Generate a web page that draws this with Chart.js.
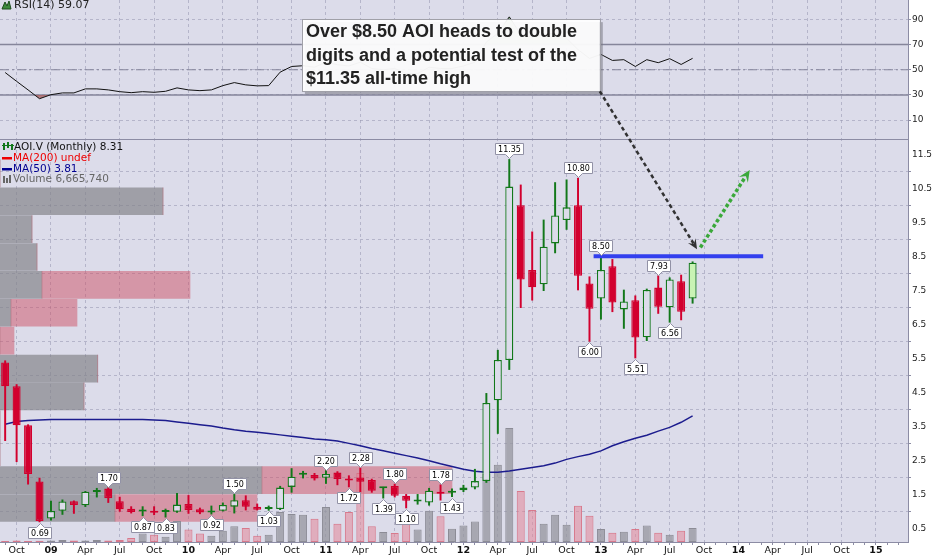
<!DOCTYPE html>
<html>
<head>
<meta charset="utf-8">
<script src="https://cdn.jsdelivr.net/npm/chart.js@4.4.1/dist/chart.umd.min.js"></script>
<style>
  html, body { margin: 0; padding: 0; background: #fff; }
  #c { display: block; width: 935px; height: 557px; }
</style>
</head>
<body>
<canvas id="c" width="935" height="557"></canvas>
<script>
// monthly bars, Sep 2008 .. Sep 2013
const months = [
  '2008-09','2008-10','2008-11','2008-12',
  '2009-01','2009-02','2009-03','2009-04','2009-05','2009-06','2009-07','2009-08','2009-09','2009-10','2009-11','2009-12',
  '2010-01','2010-02','2010-03','2010-04','2010-05','2010-06','2010-07','2010-08','2010-09','2010-10','2010-11','2010-12',
  '2011-01','2011-02','2011-03','2011-04','2011-05','2011-06','2011-07','2011-08','2011-09','2011-10','2011-11','2011-12',
  '2012-01','2012-02','2012-03','2012-04','2012-05','2012-06','2012-07','2012-08','2012-09','2012-10','2012-11','2012-12',
  '2013-01','2013-02','2013-03','2013-04','2013-05','2013-06','2013-07','2013-08','2013-09'
];
const opens = [
  5.38, 4.68, 3.53, 1.88,
  0.79, 1.02, 1.30, 1.18, 1.57, 1.67, 1.30, 1.08, 1.00, 1.02, 0.98, 0.99,
  1.22, 1.06, 0.97, 1.02, 1.14, 1.33, 1.14, 1.07, 1.07, 1.72, 2.08, 2.07,
  1.99, 2.14, 1.93, 2.00, 1.92, 1.68, 1.75, 1.46, 1.29, 1.26, 1.58, 1.55,
  1.62, 1.70, 1.89, 4.27, 5.45, 10.00, 8.10, 7.68, 8.88, 9.57, 10.00, 7.70,
  7.26, 8.21, 6.94, 7.21, 6.12, 7.58, 7.00, 7.77, 7.26
];
const highs = [
  5.43, 4.73, 3.55, 1.98,
  1.30, 1.34, 1.31, 1.59, 1.68, 1.70, 1.42, 1.14, 1.14, 1.14, 1.07, 1.53,
  1.47, 1.10, 1.16, 1.25, 1.50, 1.46, 1.22, 1.16, 1.74, 2.26, 2.18, 2.12,
  2.20, 2.17, 2.05, 2.28, 1.95, 1.71, 1.80, 1.50, 1.50, 1.68, 1.78, 1.66,
  1.77, 2.24, 4.47, 5.74, 11.35, 10.60, 9.22, 9.57, 10.67, 10.75, 10.80, 7.90,
  8.50, 8.41, 7.51, 7.34, 7.54, 7.93, 7.87, 7.95, 8.34
];
const lows = [
  3.08, 2.46, 1.80, 0.69,
  0.74, 0.91, 0.94, 1.14, 1.42, 1.26, 1.00, 0.95, 0.87, 0.90, 0.83, 0.97,
  0.94, 0.93, 0.92, 1.01, 0.95, 1.04, 1.04, 1.03, 1.05, 1.56, 1.98, 1.92,
  1.82, 1.78, 1.72, 1.57, 1.56, 1.39, 1.42, 1.10, 1.21, 1.18, 1.33, 1.43,
  1.58, 1.66, 1.85, 3.29, 5.17, 6.99, 7.21, 7.49, 8.60, 9.29, 7.51, 6.00,
  6.65, 6.87, 6.38, 5.51, 6.02, 6.82, 6.56, 6.63, 7.12
];
const closes = [
  4.68, 3.53, 2.10, 0.72,
  1.01, 1.29, 1.19, 1.58, 1.59, 1.39, 1.06, 0.98, 1.02, 0.96, 1.00, 1.20,
  1.04, 0.97, 0.99, 1.19, 1.33, 1.14, 1.05, 1.09, 1.70, 2.02, 2.10, 1.97,
  2.10, 1.95, 1.91, 1.87, 1.61, 1.70, 1.46, 1.31, 1.31, 1.61, 1.52, 1.60,
  1.70, 1.89, 4.19, 5.45, 10.55, 7.82, 7.59, 8.78, 9.70, 9.94, 7.93, 6.96,
  8.10, 7.14, 7.17, 6.11, 7.51, 7.02, 7.82, 6.87, 8.31
];
// volume in millions of shares
const volumes = [
  0.5, 0.7, 0.5, 0.6,
  0.7, 1.0, 0.7, 0.7, 1.0, 0.7, 1.0, 1.9, 4.0, 3.5, 2.5, 10.0,
  5.9, 4.0, 3.0, 5.4, 7.5, 6.7, 3.0, 3.5, 14.3, 13.3, 13.0, 11.1,
  16.7, 8.7, 14.3, 32.8, 7.5, 4.8, 4.3, 12.2, 5.9, 14.9, 12.2, 6.3,
  7.8, 9.7, 32.4, 36.8, 54.3, 24.3, 15.2, 8.7, 13.0, 8.2, 17.3, 12.5,
  6.2, 4.4, 4.9, 6.2, 7.8, 4.4, 3.5, 5.4, 6.66574
];
const ma50 = [
  3.56, 3.64, 3.67, 3.69,
  3.70, 3.70, 3.70, 3.70, 3.70, 3.70, 3.70, 3.70, 3.70, 3.69, 3.67, 3.63,
  3.59, 3.55, 3.51, 3.45, 3.40, 3.36, 3.33, 3.29, 3.25, 3.21, 3.17, 3.13,
  3.11, 3.07, 3.00, 2.93, 2.85, 2.78, 2.71, 2.64, 2.57, 2.49, 2.40, 2.32,
  2.24, 2.18, 2.15, 2.15, 2.19, 2.24, 2.29, 2.34, 2.42, 2.53, 2.61, 2.68,
  2.78, 2.93, 3.05, 3.15, 3.24, 3.36, 3.47, 3.62, 3.81
];
const rsi14 = [
  47.8, 40.8, 34.0, 27.0,
  30.2, 31.6, 31.6, 34.8, 34.8, 34.0, 32.6, 31.8, 32.6, 32.1, 32.9, 35.6,
  34.0, 33.4, 34.0, 37.4, 39.8, 38.0, 37.2, 37.4, 48.1, 52.6, 53.2, 52.0,
  56.0, 54.0, 53.0, 56.0, 51.0, 50.0, 51.0, 47.0, 47.0, 52.0, 51.0, 51.0,
  53.0, 56.0, 72.0, 79.0, 92.0, 78.0, 76.0, 78.0, 79.0, 75.0, 66.0, 59.0,
  62.2, 57.4, 58.0, 52.6, 58.0, 55.6, 58.8, 54.2, 59.07
];

// volume by price rows (price zones) and their up / down volume
const vbpLow  = [0.69, 1.51, 2.33, 3.15, 3.97, 4.79, 5.61, 6.43, 7.25, 8.07, 8.89, 9.71, 10.53];
const vbpHigh = [1.51, 2.33, 3.15, 3.97, 4.79, 5.61, 6.43, 7.25, 8.07, 8.89, 9.71, 10.53, 11.35];
const vbpUp   = [46.0, 104.8, 0, 0, 33.6, 39.1, 0, 4.4, 16.8, 14.8, 12.8, 65.2, 0];
const vbpDown = [56.8, 76.0, 0, 0, 0, 0, 5.6, 26.4, 59.2, 0, 0, 0, 0];

// tick labels
const xTickLabels = ['Oct','09','Apr','Jul','Oct','10','Apr','Jul','Oct','11','Apr','Jul','Oct','12',
  'Apr','Jul','Oct','13','Apr','Jul','Oct','14','Apr','Jul','Oct','15'];
const xFirstTick = '2008-10';
const priceTicks = [0.5,1.0,1.5,2.0,2.5,3.0,3.5,4.0,4.5,5.0,5.5,6.0,6.5,7.0,7.5,8.0,8.5,9.0,9.5,10.0,10.5,11.0,11.5];
const rsiGrid = [10,20,30,40,50,60,70,80,90];
const rsiTickLabels = [10,30,50,70,90];
const rsiLevels = [70, 50, 30];

// swing highs / lows that carry a price tag
const taggedBars = [
  ['2008-12','low'], ['2009-06','high'], ['2009-09','low'], ['2009-11','low'], ['2010-03','low'],
  ['2010-05','high'], ['2010-08','low'], ['2011-01','high'], ['2011-03','low'], ['2011-04','high'],
  ['2011-06','low'], ['2011-07','high'], ['2011-08','low'], ['2011-11','high'], ['2011-12','low'],
  ['2012-05','high'], ['2012-11','high'], ['2012-12','low'], ['2013-01','high'], ['2013-04','low'],
  ['2013-06','high'], ['2013-07','low']
];
// resistance line at 8.50 (month position, price)
const resistance = [{ x: 47.36, y: 8.5 }, { x: 62.16, y: 8.5 }];

const noteLines = ['Over $8.50 AOI heads to double', 'digits and a potential test of the', '$11.35 all-time high'];

function monthIndex(s) {
  const [y, m] = s.split('-').map(Number);
  return (y - 2009) * 12 + (m - 1);
}
const mIdx = months.map(monthIndex);
const firstQ = monthIndex(xFirstTick);

const X_MIN = -4.45, X_MAX = 74.8;
const BG = '#dcdcea';
const GRID = 'rgba(150,150,175,0.55)';
const AXIS = '#8c8ca4';
const UP_EDGE = '#12781a';
const DOWN = '#d2002e';
const LAST_FILL = '#c9f3b4';
const FONT = '"DejaVu Sans", Verdana, sans-serif';

const isUp = i => closes[i] >= opens[i];

const monthTicks = [];
for (let m = -4; m <= 74; m++) monthTicks.push({ value: m });

function xLabel(v) {
  const k = v - firstQ;
  if (k < 0 || k % 3 !== 0) return '';
  return xTickLabels[k / 3] || '';
}

const decor = {
  id: 'decor',
  beforeDraw(chart) {
    const { ctx, chartArea: a } = chart;
    ctx.save();
    ctx.fillStyle = '#fff';
    ctx.fillRect(0, 0, chart.width, chart.height);
    ctx.fillStyle = BG;
    ctx.fillRect(a.left, a.top, a.right - a.left, a.bottom - a.top);
    ctx.restore();
  },
  afterDraw(chart) {
    const { ctx, chartArea: a, scales } = chart;
    const x = scales.x, y = scales.y, yr = scales.yr;
    ctx.save();

    // separator between RSI and price panels
    ctx.strokeStyle = AXIS;
    ctx.lineWidth = 1;
    ctx.beginPath();
    ctx.moveTo(a.left, Math.round(yr.bottom) + 0.5);
    ctx.lineTo(a.right, Math.round(yr.bottom) + 0.5);
    ctx.stroke();

    // price tags on swing points
    taggedBars.forEach(([mo, side]) => {
      const i = months.indexOf(mo);
      const v = side === 'high' ? highs[i] : lows[i];
      drawTag(ctx, x.getPixelForValue(mIdx[i]), y.getPixelForValue(v), v.toFixed(2), side === 'low');
    });

    // RSI title
    ctx.fillStyle = '#3d8a3d';
    ctx.strokeStyle = '#1d4d1d';
    ctx.beginPath();
    ctx.moveTo(2, 9); ctx.lineTo(5, 2); ctx.lineTo(7, 6); ctx.lineTo(9, 1); ctx.lineTo(11, 9); ctx.closePath();
    ctx.fill(); ctx.stroke();
    ctx.font = '11px ' + FONT;
    ctx.textBaseline = 'middle';
    ctx.fillStyle = '#222';
    ctx.fillText('RSI(14) ' + rsi14[rsi14.length - 1].toFixed(2), 14, 5.5);

    // price panel legend
    const top = y.top;
    ctx.font = '10.5px ' + FONT;
    const last = closes.length - 1;
    ctx.fillStyle = UP_EDGE;
    ctx.fillRect(3, top + 4, 2, 7); ctx.fillRect(7, top + 3, 2, 6); ctx.fillRect(11, top + 5, 2, 6);
    ctx.fillRect(2, top + 6, 12, 1);
    ctx.fillStyle = '#111';
    ctx.fillText('AOI.V (Monthly) ' + closes[last].toFixed(2), 14, top + 8);
    ctx.fillStyle = '#ee0000';
    ctx.fillRect(2, top + 18, 10, 2.5);
    ctx.fillText('MA(200) undef', 13, top + 19);
    ctx.fillStyle = '#000090';
    ctx.fillRect(2, top + 29, 10, 2.5);
    ctx.fillText('MA(50) ' + ma50[last].toFixed(2), 13, top + 30);
    ctx.fillStyle = '#666';
    ctx.fillRect(3, top + 37, 2, 7); ctx.fillRect(6, top + 39, 2, 5); ctx.fillRect(9, top + 36, 2, 8);
    ctx.fillText('Volume ' + Math.round(volumes[last] * 1e6).toLocaleString('en-US'), 13, top + 40);

    // annotation box, anchored to month / RSI units
    const bx0 = x.getPixelForValue(21.9), bx1 = x.getPixelForValue(47.9);
    const by0 = yr.getPixelForValue(90.2), by1 = yr.getPixelForValue(32.9);
    ctx.fillStyle = 'rgba(120,120,130,0.55)';
    ctx.fillRect(bx0 + 3, by0 + 3, bx1 - bx0, by1 - by0);
    ctx.fillStyle = 'rgba(255,255,255,0.93)';
    ctx.fillRect(bx0, by0, bx1 - bx0, by1 - by0);
    ctx.strokeStyle = '#a0a0a8';
    ctx.strokeRect(Math.round(bx0) + 0.5, Math.round(by0) + 0.5, Math.round(bx1 - bx0), Math.round(by1 - by0));
    ctx.fillStyle = '#222';
    ctx.font = 'bold 18px "Liberation Sans", Arial, sans-serif';
    noteLines.forEach((t, k) => ctx.fillText(t, bx0 + 4, by0 + 13 + k * 23.5));

    // arrows
    arrow(ctx, bx1, by1, x.getPixelForValue(56.39), y.getPixelForValue(8.71), 'rgba(35,35,35,0.92)', 2.5, [4, 3], 11);
    arrow(ctx, x.getPixelForValue(56.68), y.getPixelForValue(8.76), x.getPixelForValue(60.99), y.getPixelForValue(11.04), '#3aa83a', 3.5, [3.5, 2.5], 13);

    ctx.restore();
  }
};

function drawTag(ctx, px, py, text, below) {
  ctx.save();
  ctx.font = '8px ' + FONT;
  const w = Math.ceil(ctx.measureText(text).width) + 5;
  const h = 11;
  const cx = Math.round(px) + 0.5;
  const bx = Math.round(px - w / 2) + 0.5;
  const by = below ? Math.round(py + 5) + 0.5 : Math.round(py - 5 - h) + 0.5;
  ctx.beginPath();
  if (below) {
    ctx.moveTo(bx, by); ctx.lineTo(cx - 4, by); ctx.lineTo(cx, by - 4); ctx.lineTo(cx + 4, by);
    ctx.lineTo(bx + w, by); ctx.lineTo(bx + w, by + h); ctx.lineTo(bx, by + h);
  } else {
    ctx.moveTo(bx, by); ctx.lineTo(bx + w, by); ctx.lineTo(bx + w, by + h); ctx.lineTo(cx + 4, by + h);
    ctx.lineTo(cx, by + h + 4); ctx.lineTo(cx - 4, by + h); ctx.lineTo(bx, by + h);
  }
  ctx.closePath();
  ctx.fillStyle = '#fff';
  ctx.fill();
  ctx.strokeStyle = '#9292a6';
  ctx.lineWidth = 1;
  ctx.stroke();
  ctx.fillStyle = '#000';
  ctx.textAlign = 'center';
  ctx.textBaseline = 'middle';
  ctx.fillText(text, bx + w / 2, by + h / 2 + 0.5);
  ctx.restore();
}

function arrow(ctx, x1, y1, x2, y2, color, width, dash, head) {
  const a = Math.atan2(y2 - y1, x2 - x1);
  ctx.save();
  ctx.strokeStyle = color;
  ctx.lineWidth = width;
  ctx.setLineDash(dash);
  ctx.beginPath();
  ctx.moveTo(x1, y1);
  ctx.lineTo(x2 - Math.cos(a) * head * 0.6, y2 - Math.sin(a) * head * 0.6);
  ctx.stroke();
  ctx.setLineDash([]);
  ctx.fillStyle = color;
  ctx.beginPath();
  ctx.moveTo(x2, y2);
  ctx.lineTo(x2 - head * Math.cos(a - 0.42), y2 - head * Math.sin(a - 0.42));
  ctx.lineTo(x2 - head * 0.55 * Math.cos(a), y2 - head * 0.55 * Math.sin(a));
  ctx.lineTo(x2 - head * Math.cos(a + 0.42), y2 - head * Math.sin(a + 0.42));
  ctx.closePath();
  ctx.fill();
  ctx.restore();
}

const bars = { grouped: false, categoryPercentage: 1, barPercentage: 0.7 };

const datasets = [
  // volume by price
  Object.assign({ type: 'bar', indexAxis: 'y', xAxisID: 'xv', yAxisID: 'y', order: 20,
    data: vbpLow.map((lo, i) => ({ y: (lo + vbpHigh[i]) / 2, x: [0, vbpUp[i]] })),
    backgroundColor: 'rgba(128,128,134,0.67)', borderWidth: 0, barThickness: 27, grouped: false }),
  Object.assign({ type: 'bar', indexAxis: 'y', xAxisID: 'xv', yAxisID: 'y', order: 19,
    data: vbpLow.map((lo, i) => ({ y: (lo + vbpHigh[i]) / 2, x: [vbpUp[i], vbpUp[i] + vbpDown[i]] })),
    backgroundColor: 'rgba(205,80,100,0.5)', borderWidth: 0, barThickness: 27, grouped: false }),
  // volume
  Object.assign({ type: 'bar', xAxisID: 'x', yAxisID: 'yVol', order: 15,
    data: mIdx.map((m, i) => ({ x: m, y: volumes[i] })),
    backgroundColor: c => isUp(c.dataIndex) ? 'rgba(150,150,158,0.75)' : 'rgba(228,135,152,0.55)',
    borderColor: c => isUp(c.dataIndex) ? '#8c8c96' : 'rgba(215,110,130,0.9)',
    borderWidth: 1, borderSkipped: false }, bars),
  // MA(50)
  { type: 'line', xAxisID: 'x', yAxisID: 'y', order: 10,
    data: mIdx.map((m, i) => ({ x: m, y: ma50[i] })),
    borderColor: '#1c1c8e', borderWidth: 1.5, pointRadius: 0, tension: 0 },
  // wicks
  { type: 'bar', xAxisID: 'x', yAxisID: 'y', order: 6, grouped: false, barThickness: 1.3,
    data: mIdx.map((m, i) => ({ x: m, y: [lows[i], highs[i]] })),
    backgroundColor: c => isUp(c.dataIndex) ? UP_EDGE : DOWN, borderWidth: 0 },
  // bodies
  Object.assign({ type: 'bar', xAxisID: 'x', yAxisID: 'y', order: 5,
    data: mIdx.map((m, i) => ({ x: m, y: [opens[i], closes[i]] })),
    backgroundColor: c => c.dataIndex === closes.length - 1 ? LAST_FILL : (isUp(c.dataIndex) ? BG : DOWN),
    borderColor: c => isUp(c.dataIndex) ? UP_EDGE : DOWN,
    borderWidth: 1.3, borderSkipped: false, minBarLength: 2 }, bars),
  // 8.50 resistance
  { type: 'line', xAxisID: 'x', yAxisID: 'y', order: 4, data: resistance,
    borderColor: '#3340ee', borderWidth: 4, pointRadius: 0 },
  // RSI line with oversold shading
  { type: 'line', xAxisID: 'x', yAxisID: 'yr', order: 3,
    data: mIdx.map((m, i) => ({ x: m, y: rsi14[i] })),
    borderColor: '#111', borderWidth: 1, pointRadius: 0, tension: 0,
    fill: { target: { value: 30 }, above: 'rgba(0,0,0,0)', below: 'rgba(165,90,90,0.75)' } },
  // overbought shading
  { type: 'line', xAxisID: 'x', yAxisID: 'yr', order: 9,
    data: mIdx.map((m, i) => ({ x: m, y: rsi14[i] })),
    borderWidth: 0, pointRadius: 0, tension: 0,
    fill: { target: { value: 70 }, above: 'rgba(110,185,110,0.6)', below: 'rgba(0,0,0,0)' } }
];
rsiLevels.forEach(v => {
  datasets.push({ type: 'line', xAxisID: 'x', yAxisID: 'yr', order: 8,
    data: [{ x: X_MIN, y: v }, { x: X_MAX, y: v }],
    borderColor: '#85859a', borderWidth: v === 50 ? 1 : 1.5,
    borderDash: v === 50 ? [9, 3, 2, 3] : [], pointRadius: 0 });
});

const rightAxisFit = s => { s.width = 27; s.paddingTop = 0; s.paddingBottom = 0; };

new Chart(document.getElementById('c'), {
  type: 'bar',
  data: { datasets },
  plugins: [decor],
  options: {
    responsive: false,
    devicePixelRatio: 1,
    animation: false,
    events: [],
    layout: { padding: 0 },
    plugins: { legend: { display: false }, tooltip: { enabled: false } },
    scales: {
      x: {
        type: 'linear', axis: 'x', position: 'bottom', min: X_MIN, max: X_MAX, offset: false,
        afterBuildTicks: s => { s.ticks = monthTicks.map(t => ({ value: t.value })); },
        afterFit: s => { s.height = 15; s.paddingLeft = 0; s.paddingRight = 0; },
        ticks: {
          autoSkip: false, maxRotation: 0, padding: 0, color: '#111',
          callback: v => xLabel(v),
          font: c => ({ family: FONT, size: 9.5, weight: c.tick && (c.tick.value - firstQ) % 12 === 3 ? 'bold' : 'normal' })
        },
        grid: {
          offset: false, lineWidth: 1, tickLength: 3, tickColor: AXIS,
          color: c => c.tick && ((c.tick.value - firstQ) % 3 === 0) ? GRID : 'rgba(0,0,0,0)'
        },
        border: { color: AXIS, dash: [3, 3] }
      },
      yr: {
        type: 'linear', axis: 'y', position: 'right', stack: 'panes', stackWeight: 139,
        min: -5, max: 105.4, offset: false,
        afterBuildTicks: s => { s.ticks = rsiGrid.map(v => ({ value: v })); },
        afterFit: rightAxisFit,
        ticks: { padding: 1, color: '#222', font: { family: FONT, size: 9 },
          callback: v => rsiTickLabels.includes(v) ? String(v) : '' },
        grid: { color: GRID, tickColor: AXIS, tickLength: 3 },
        border: { color: AXIS, dash: [3, 3] }
      },
      y: {
        type: 'linear', axis: 'y', position: 'right', stack: 'panes', stackWeight: 403,
        min: 0.1, max: 11.95, offset: false,
        afterBuildTicks: s => { s.ticks = priceTicks.map(v => ({ value: v })); },
        afterFit: rightAxisFit,
        ticks: { padding: 1, color: '#222', font: { family: FONT, size: 9 }, callback: v => v.toFixed(1) },
        grid: { color: GRID, tickColor: AXIS, tickLength: 3 },
        border: { color: AXIS, dash: [3, 3] }
      },
      yVol: { type: 'linear', axis: 'y', position: 'right', display: false, min: 0, max: 258, offset: false },
      xv: { type: 'linear', axis: 'x', position: 'top', display: false, min: 0, max: 363.2, offset: false }
    }
  }
});
</script>
</body>
</html>
